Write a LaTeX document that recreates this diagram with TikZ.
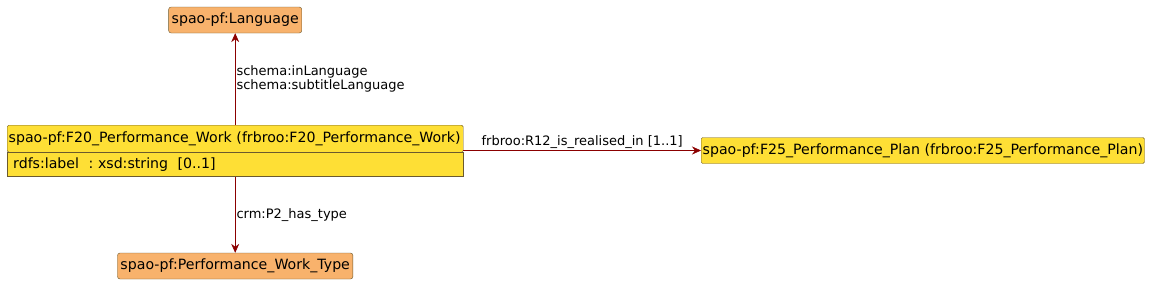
\documentclass[tikz,border=0pt]{standalone}
\usepackage{fontspec}
\setmainfont{DejaVu Sans}
\usetikzlibrary{positioning, arrows.meta, calc}
\definecolor{vocorange}{HTML}{F8B26C}
\definecolor{vocyellow}{HTML}{FEDF35}
\definecolor{vocedge}{HTML}{6B5A2E}
\definecolor{proparrow}{HTML}{8B0000}
\tikzset{
  extclass/.style={draw=vocedge, fill=vocorange, rounded corners=2.5pt, inner xsep=3pt, inner ysep=0pt,
    minimum height=26pt, font=\fontsize{14.15}{16}\selectfont},
  ownclass/.style={draw=vocedge, fill=vocyellow, rounded corners=1.5pt, inner xsep=1.5pt, inner ysep=0pt,
    minimum height=26pt, font=\fontsize{14.15}{16}\selectfont},
  attrrow/.style={draw=vocedge, fill=vocyellow, inner xsep=6pt, inner ysep=0pt, minimum height=24pt,
    text width=444pt, align=left, font=\fontsize{14.15}{16}\selectfont},
  prop/.style={->, >={Stealth[length=9pt, width=8pt, inset=3pt]}, proparrow, semithick},
  proplabel/.style={font=\fontsize{13}{15}\selectfont, text=black}
}

\begin{document}
\begin{tikzpicture}[x=1pt, y=-1pt]
        \useasboundingbox (0,0) rectangle (1159,292);
        \node[ownclass, anchor=north west, minimum height=27pt, text width=453pt, align=left] (work) at (7,125)
             {spao-pf:F20\_Performance\_Work (frbroo:F20\_Performance\_Work)};
        \node[attrrow, anchor=north west] (workattr) at (work.south west) {rdfs:label~~:~xsd:string~~[0..1]};
        \node[extclass] (lang) at (work.north |- 0,20) {spao-pf:Language};
        \node[extclass] (worktype) at (work.north |- 0,266) {spao-pf:Performance\_Work\_Type};
        \node[ownclass, anchor=west] (plan) at (701,150.5) {spao-pf:F25\_Performance\_Plan (frbroo:F25\_Performance\_Plan)};
        \draw[prop] (work.north) -- node[proplabel, right, align=left, inner xsep=1pt] {schema:inLanguage\\[-1pt]schema:subtitleLanguage} (lang.south);
        \draw[prop] (workattr.south) -- node[proplabel, right, inner xsep=1pt] {crm:P2\_has\_type} (worktype.north);
        \draw[prop] (work.south east |- plan.west) -- node[proplabel, above, inner ysep=2pt] {frbroo:R12\_is\_realised\_in [1..1]} (plan.west);
      \end{tikzpicture}
\end{document}
